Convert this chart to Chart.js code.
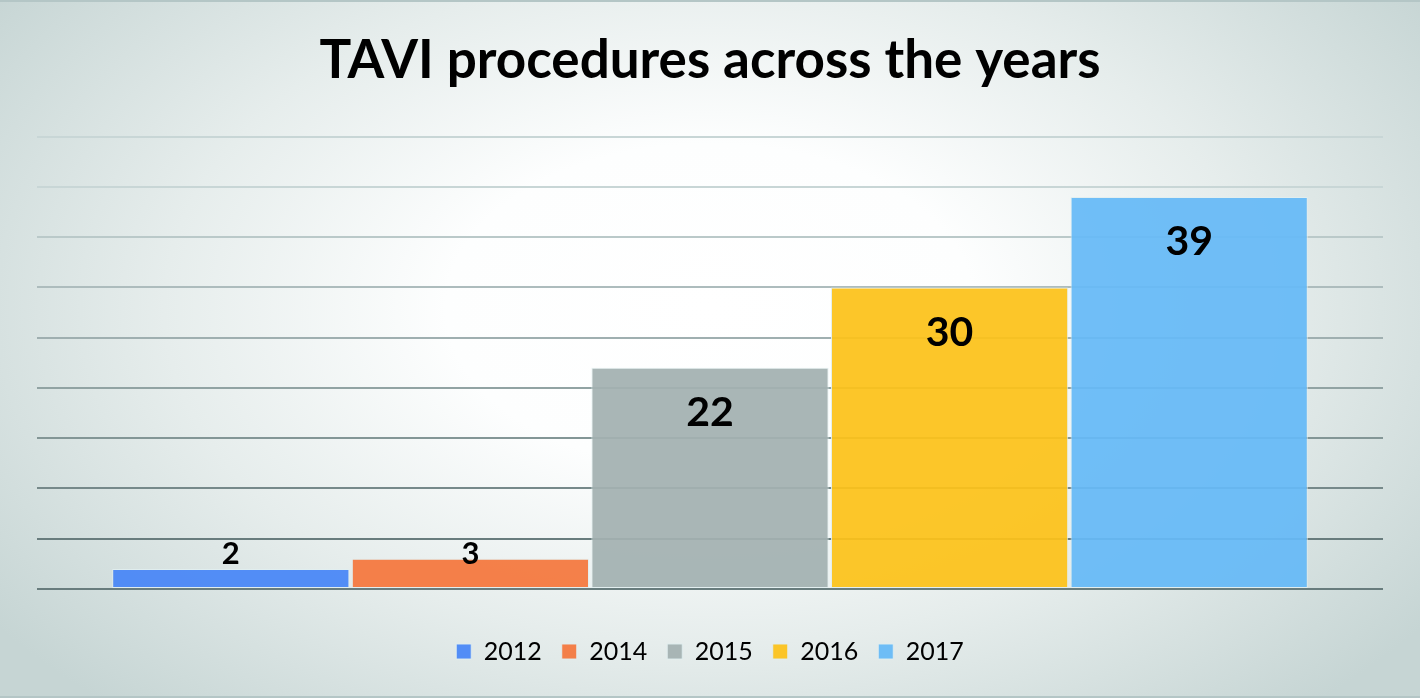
<!DOCTYPE html>
<html>
<head>
<meta charset="utf-8">
<script src="https://cdn.jsdelivr.net/npm/chart.js@4.4.0/dist/chart.umd.min.js"></script>
<style>
  html, body { margin: 0; padding: 0; overflow: hidden; }
  body {
    width: 1420px; height: 698px;
    background: radial-gradient(ellipse 62% 78% at 50% 44%, #ffffff 0%, #fdfefe 30%, #e6edec 62%, #c6d5d4 100%);
  }
  #wrap { position: relative; width: 1420px; height: 698px; box-sizing: border-box; border-top: 2px solid #b4c6c6; border-bottom: 2px solid #b4c6c6; }
  canvas { display: block; }
</style>
</head>
<body>
<div id="wrap"><canvas id="c" width="1420" height="694"></canvas></div>
<script>
// ---- data ----
const categories = [''];
const seriesNames = ['2012', '2014', '2015', '2016', '2017'];
const seriesValues = [2, 3, 22, 30, 39];
const seriesColors = ['#4886f6', '#f4773d', '#a3b1b1', '#fcc21a', '#66b9f6'];
const yTicks = [0, 5, 10, 15, 20, 25, 30, 35, 40, 45];

const datasets = seriesNames.map((name, i) => ({
  label: name,
  data: [seriesValues[i]],
  backgroundColor: seriesColors[i] + 'ee',
  borderColor: 'rgba(225,238,240,0.9)',
  borderWidth: 1,
  borderSkipped: false,
  categoryPercentage: 0.89,
  barPercentage: 0.99
}));

const labelPlugin = {
  id: 'valueLabels',
  afterDatasetsDraw(chart) {
    const ctx = chart.ctx;
    ctx.save();
    ctx.fillStyle = '#000';
    ctx.textAlign = 'center';
    ctx.textBaseline = 'middle';
    chart.data.datasets.forEach((ds, i) => {
      const meta = chart.getDatasetMeta(i);
      const bar = meta.data[0];
      const h = bar.base - bar.y;
      let y, size;
      if (h > 100) { y = bar.y + 45; size = 41; }
      else { y = bar.base - 34; size = 31; }
      ctx.font = 'bold ' + size + 'px Lato';
      ctx.fillText(String(ds.data[0]), bar.x, y);
    });
    ctx.restore();
  }
};

function gridColor(idx) {
  const dark = [104, 124, 125], light = [200, 214, 214];
  let t = (idx - 1) / 7;
  t = Math.max(0, Math.min(1, t));
  const c = dark.map((d, k) => Math.round(d + (light[k] - d) * t));
  return 'rgb(' + c.join(',') + ')';
}

new Chart(document.getElementById('c'), {
  type: 'bar',
  data: { labels: categories, datasets },
  options: {
    responsive: false,
    devicePixelRatio: 1,
    animation: false,
    layout: { padding: { left: 37, right: 37, top: 0, bottom: 22 } },
    plugins: {
      title: {
        display: true,
        text: 'TAVI procedures across the years',
        color: '#000',
        font: { family: 'Lato', size: 53, weight: 'bold' },
        padding: { top: 27, bottom: 44 }
      },
      legend: {
        position: 'bottom',
        labels: {
          color: '#000',
          font: { family: 'Lato', size: 25 },
          boxWidth: 15,
          boxHeight: 15,
          padding: 20
        }
      },
      tooltip: { enabled: false }
    },
    scales: {
      x: {
        display: true,
        grid: { display: false },
        border: { display: false },
        ticks: { display: false },
        afterFit: (s) => { s.height = 30; }
      },
      y: {
        min: 0, max: 45,
        afterBuildTicks: (s) => { s.ticks = yTicks.map(v => ({ value: v })); },
        ticks: { display: false },
        border: { display: false },
        grid: {
          drawTicks: false,
          lineWidth: 2,
          color: (c) => gridColor(c.index)
        },
        afterFit: (s) => { s.width = 0; }
      }
    }
  },
  plugins: [labelPlugin]
});
</script>
</body>
</html>
